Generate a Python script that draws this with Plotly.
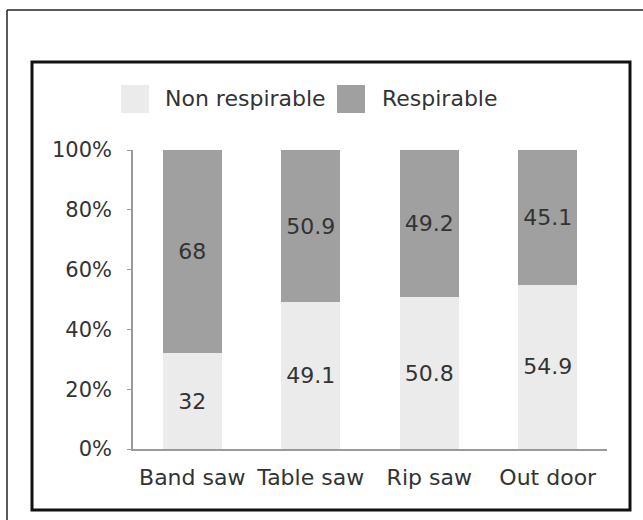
import plotly.graph_objects as go

categories = ["Band saw", "Table saw", "Rip saw", "Out door"]
non_respirable = [32, 49.1, 50.8, 54.9]
respirable = [68, 50.9, 49.2, 45.1]
series_names = ["Non respirable", "Respirable"]
tick_values = [0, 20, 40, 60, 80, 100]
tick_labels = ["0%", "20%", "40%", "60%", "80%", "100%"]

colors = ["#EBEBEB", "#A0A0A0"]
FONT = "DejaVu Sans"
TXT = "#333333"

W, H = 643, 520
L, R, T, B = 133, 36, 150, 71
pw, ph = W - L - R, H - T - B


def px_x(x):
    return (x - L) / pw


def px_y(y):
    return (H - B - y) / ph


fig = go.Figure()
for name, vals, col in zip(series_names, [non_respirable, respirable], colors):
    fig.add_trace(go.Bar(
        x=categories, y=vals, name=name, marker=dict(color=col, line=dict(width=0)),
        text=[f"{v:g}" for v in vals], textposition="inside", insidetextanchor="middle",
        textfont=dict(family=FONT, size=22, color=TXT), width=0.5,
        showlegend=False, cliponaxis=False, hoverinfo="skip",
    ))

shapes = []
# outer frame (top & left visible)
shapes.append(dict(type="line", xref="paper", yref="paper", x0=px_x(7), x1=px_x(700), y0=px_y(10), y1=px_y(10),
                   line=dict(color="#222222", width=1.5)))
shapes.append(dict(type="line", xref="paper", yref="paper", x0=px_x(7), x1=px_x(7), y0=px_y(10), y1=px_y(560),
                   line=dict(color="#222222", width=1.5)))
# inner frame
shapes.append(dict(type="rect", xref="paper", yref="paper", x0=px_x(32), x1=px_x(630), y0=px_y(510), y1=px_y(62),
                   line=dict(color="#111111", width=3), fillcolor="rgba(0,0,0,0)", layer="below"))

# custom legend
annotations = []
legend_pos = [(121, 163), (337, 380)]
for (sx, tx), name, col in zip(legend_pos, series_names, colors):
    shapes.append(dict(type="rect", xref="paper", yref="paper", x0=px_x(sx), x1=px_x(sx + 28),
                       y0=px_y(113), y1=px_y(85), fillcolor=col, line=dict(width=0)))
    annotations.append(dict(xref="paper", yref="paper", x=px_x(tx), y=px_y(99), text=name, showarrow=False,
                            xanchor="left", yanchor="middle", font=dict(family=FONT, size=22, color=TXT)))

fig.update_layout(
    barmode="stack", bargap=0.5,
    width=W, height=H, margin=dict(l=L, r=R, t=T, b=B, autoexpand=False),
    paper_bgcolor="white", plot_bgcolor="white",
    shapes=shapes, annotations=annotations,
    font=dict(family=FONT, size=22, color=TXT),
    xaxis=dict(showline=True, linecolor="#9a9a9a", linewidth=1.5, ticks="", showgrid=False,
               tickfont=dict(family=FONT, size=22, color=TXT), ticklabelstandoff=8),
    yaxis=dict(range=[0, 100], tickvals=tick_values, ticktext=tick_labels, showline=True,
               linecolor="#9a9a9a", linewidth=1.5, ticks="outside", ticklen=4, tickcolor="#9a9a9a",
               showgrid=False, zeroline=False, tickfont=dict(family=FONT, size=21, color=TXT),
               ticklabelstandoff=11),
)

fig.write_html("out.html", config={"displayModeBar": False},
               post_script="document.body.style.margin='0';document.body.style.overflow='hidden';")
